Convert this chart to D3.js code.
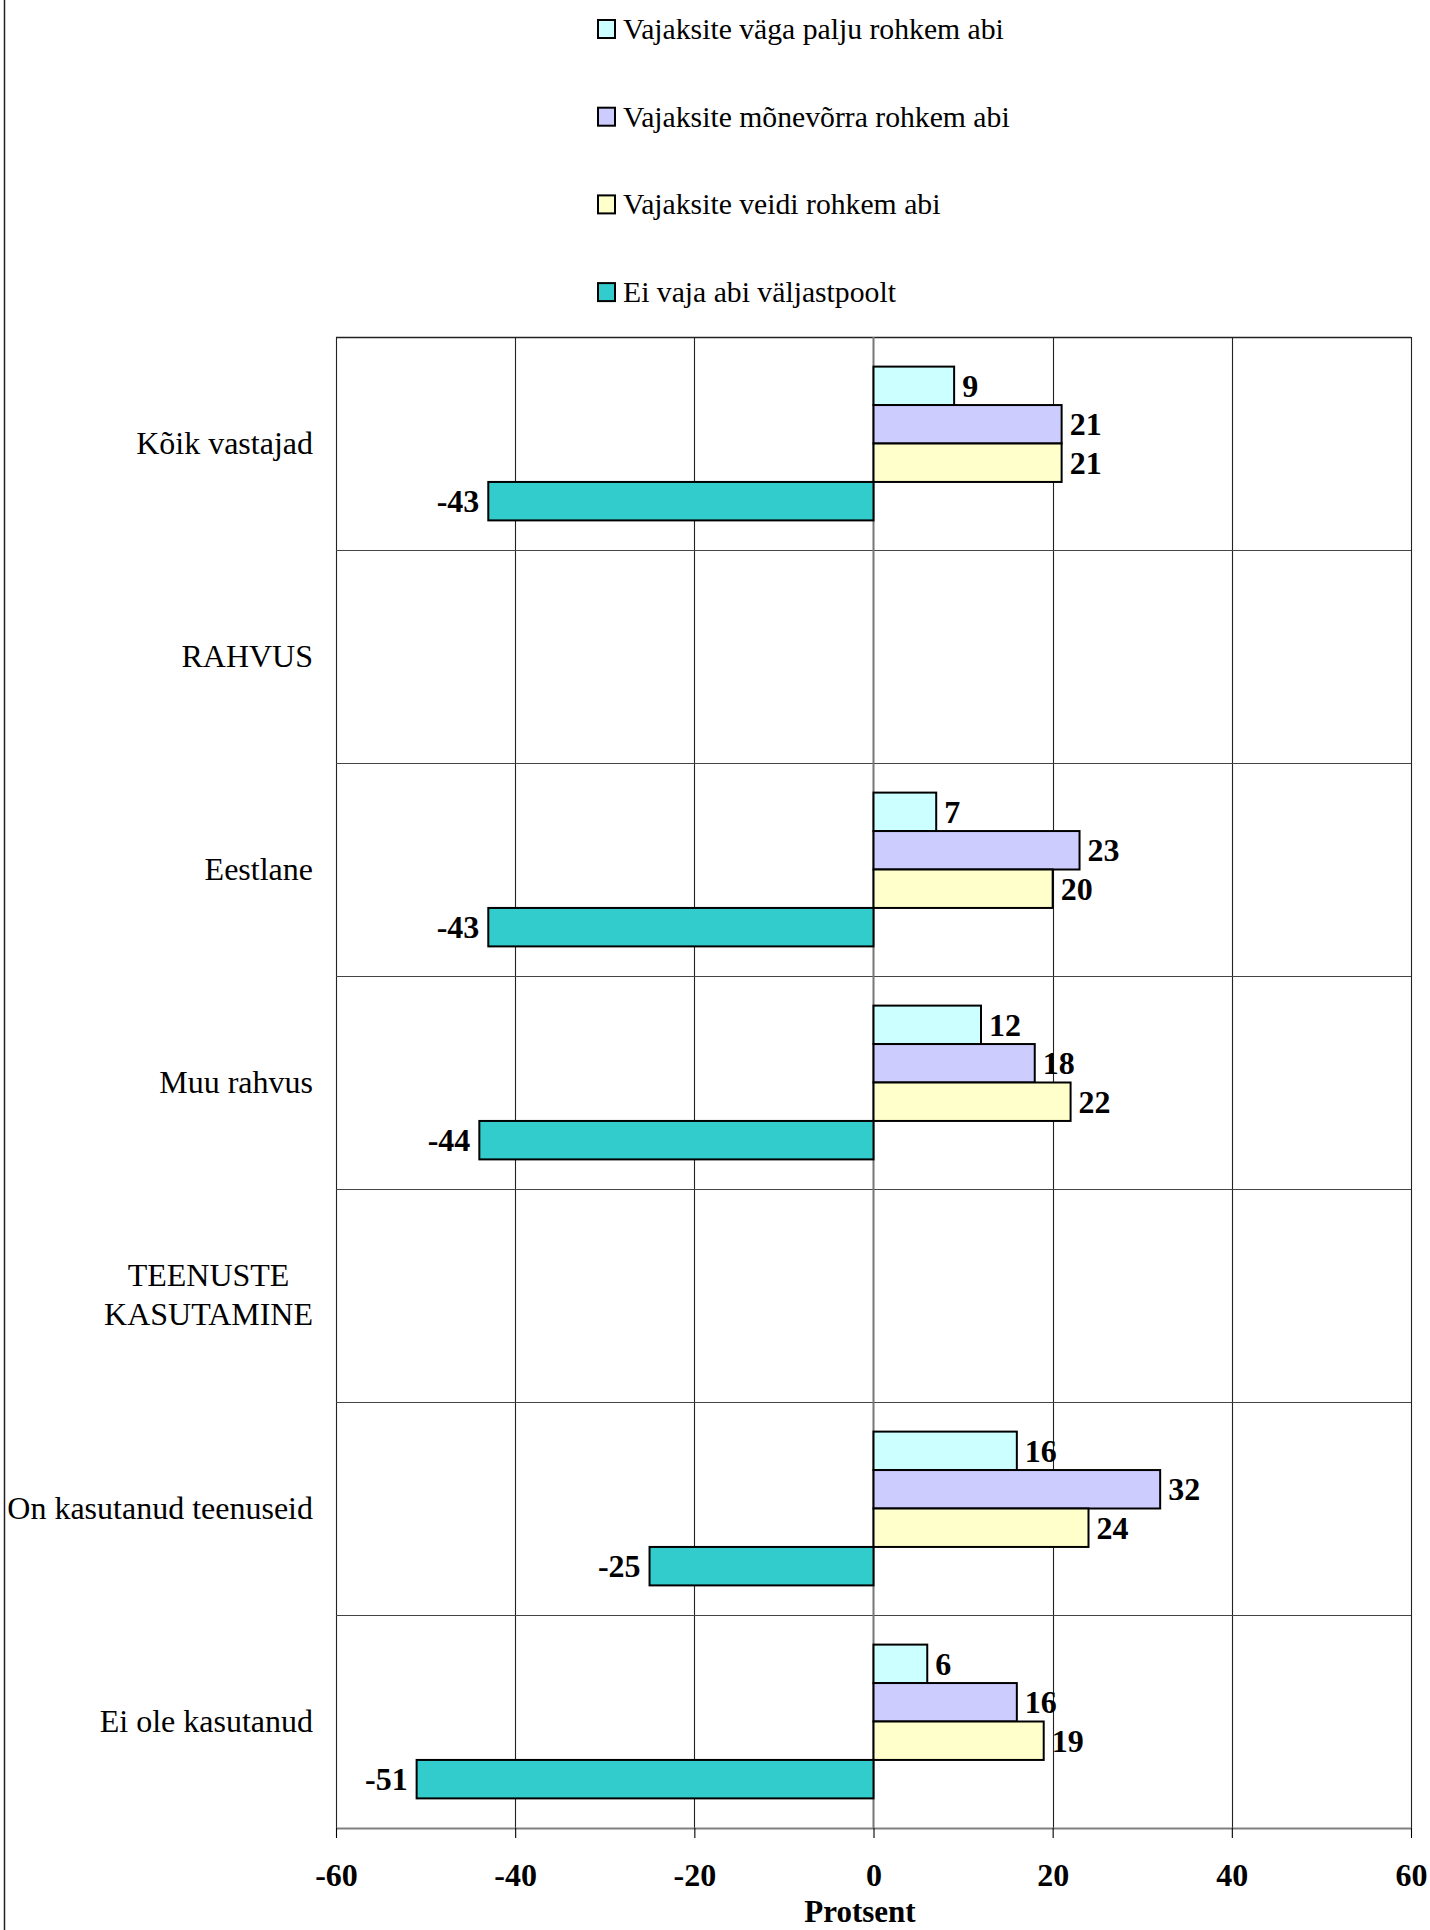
<!DOCTYPE html>
<html><head><meta charset="utf-8">
<script src="https://cdn.jsdelivr.net/npm/d3@7"></script>
<style>
html,body{margin:0;padding:0;background:#fff;}
svg{display:block;}
text{font-family:"Liberation Serif","Times New Roman",serif;fill:#000;}
</style></head>
<body>
<svg id="chart" width="1430" height="1930"></svg>
<script>
// ---- data ----
const categories = ["Kõik vastajad","RAHVUS","Eestlane","Muu rahvus","TEENUSTE\nKASUTAMINE","On kasutanud teenuseid","Ei ole kasutanud"];
const seriesNames = ["Vajaksite väga palju rohkem abi","Vajaksite mõnevõrra rohkem abi","Vajaksite veidi rohkem abi","Ei vaja abi väljastpoolt"];
const seriesColors = ["#CCFFFF","#CCCCFF","#FFFFCC","#33CCCC"];
const veryMuchMore = [9, null, 7, 12, null, 16, 6];
const somewhatMore = [21, null, 23, 18, null, 32, 16];
const slightlyMore = [21, null, 20, 22, null, 24, 19];
const noNeed = [-43, null, -43, -44, null, -25, -51];
const xTicks = [-60,-40,-20,0,20,40,60];
const xTitle = "Protsent";

const seriesValues = [veryMuchMore, somewhatMore, slightlyMore, noNeed];

// ---- layout ----
const plot = {left:336, right:1411, top:337, bottom:1828};
const svg = d3.select("#chart");

const x = d3.scaleLinear().domain([-60,60]).range([plot.left, plot.right]);
const y = d3.scaleBand().domain(d3.range(categories.length)).range([plot.top, plot.bottom]).padding(0);
const bw = y.bandwidth();
const pad = bw*0.139;
const ySub = d3.scaleBand().domain(d3.range(seriesNames.length)).range([pad, bw-pad]).padding(0);

// outer left frame line
svg.append("line").attr("x1",4.5).attr("x2",4.5).attr("y1",0).attr("y2",1930)
  .attr("stroke","#222").attr("stroke-width",1.5);

// gridlines vertical
svg.append("g").selectAll("line").data(xTicks.filter(d=>d!==0)).join("line")
  .attr("x1",d=>Math.round(x(d))+0.5).attr("x2",d=>Math.round(x(d))+0.5)
  .attr("y1",plot.top).attr("y2",plot.bottom)
  .attr("stroke","#222").attr("stroke-width",1.1);

// horizontal band lines
svg.append("g").selectAll("line").data(d3.range(categories.length)).join("line")
  .attr("x1",plot.left).attr("x2",plot.right)
  .attr("y1",d=>Math.round(y(d))+0.5).attr("y2",d=>Math.round(y(d))+0.5)
  .attr("stroke",d=>d===0?"#222":"#444").attr("stroke-width",d=>d===0?1.6:1.1);

// zero line
svg.append("line").attr("x1",x(0)).attr("x2",x(0)).attr("y1",plot.top).attr("y2",plot.bottom)
  .attr("stroke","#777").attr("stroke-width",2);

// bars
const flat = [];
categories.forEach((c,i)=>{
  seriesValues.forEach((arr,s)=>{
    if(arr[i]!==null && arr[i]!==undefined) flat.push({i, s, v:arr[i]});
  });
});
const gBars = svg.append("g");
gBars.selectAll("rect").data(flat).join("rect")
  .attr("x",d=>x(Math.min(0,d.v)))
  .attr("width",d=>Math.abs(x(d.v)-x(0)))
  .attr("y",d=>y(d.i)+ySub(d.s))
  .attr("height",ySub.bandwidth())
  .attr("fill",d=>seriesColors[d.s])
  .attr("stroke","#000").attr("stroke-width",2);

// value labels
gBars.selectAll("text").data(flat).join("text")
  .attr("x",d=>d.v>=0 ? x(d.v)+8 : x(d.v)-9)
  .attr("y",d=>y(d.i)+ySub(d.s)+ySub.bandwidth()/2+11)
  .attr("text-anchor",d=>d.v>=0?"start":"end")
  .attr("font-weight","bold").attr("font-size","32px")
  .text(d=>String(d.v));

// category labels
const gCat = svg.append("g");
categories.forEach((c,i)=>{
  const lines = c.split("\n");
  const lh = 39.5;
  const cy = y(i)+bw/2;
  const t = gCat.append("text").attr("font-size","32px");
  lines.forEach((ln,k)=>{
    t.append("tspan").text(ln)
      .attr("y", cy + 10 + (k-(lines.length-1)/2)*lh);
  });
  if(lines.length===1){
    t.attr("text-anchor","end").selectAll("tspan").attr("x",313);
  } else {
    let maxW = 0;
    t.selectAll("tspan").each(function(){maxW=Math.max(maxW,this.getComputedTextLength());});
    t.attr("text-anchor","middle").selectAll("tspan").attr("x",313-maxW/2);
  }
});

// x axis
const axis = d3.axisBottom(x).tickValues(xTicks).tickSize(10).tickSizeOuter(0).tickFormat(d=>String(d));
const gAxis = svg.append("g").attr("transform",`translate(0,${plot.bottom})`).call(axis);
gAxis.select(".domain").attr("stroke","#808080").attr("stroke-width",2.2);
gAxis.selectAll(".tick line").attr("stroke","#000").attr("stroke-width",1.1);
gAxis.selectAll(".tick text").attr("y",58).attr("dy",0)
  .attr("font-family","'Liberation Serif','Times New Roman',serif")
  .attr("font-size","32px").attr("font-weight","bold").attr("fill","#000");

svg.append("text").attr("x",860).attr("y",1922).attr("text-anchor","middle")
  .attr("font-size","31px").attr("font-weight","bold").text(xTitle);

// legend
const gLeg = svg.append("g");
seriesNames.forEach((n,k)=>{
  const yy = 20 + k*87.7;
  gLeg.append("rect").attr("x",598).attr("y",yy).attr("width",17).attr("height",18)
    .attr("fill",seriesColors[k]).attr("stroke","#000").attr("stroke-width",2);
  gLeg.append("text").attr("x",623).attr("y",yy+19).attr("font-size","29.7px").text(n);
});
</script>
</body></html>
